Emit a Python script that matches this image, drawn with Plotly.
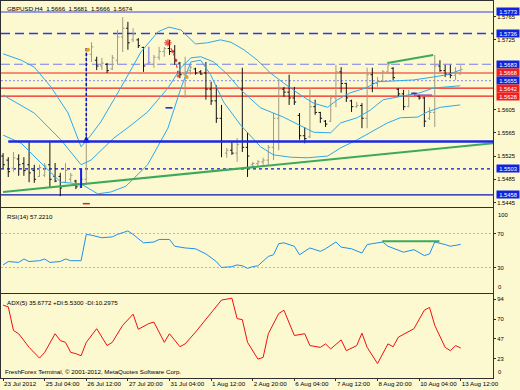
import plotly.graph_objects as go

# ---------------- data ----------------
bars = list(range(89))
highs = [1.5530,1.5523,1.5532,1.5528,1.5523,1.5549,1.5510,1.5510,1.5513,1.5549,
         1.5513,1.5496,1.5513,1.5496,1.5484,1.5504,1.5711,1.5721,1.5696,1.5694,
         1.5685,1.5699,1.5742,1.5764,1.5756,1.5745,1.5728,1.5713,1.5713,1.5699,
         1.5713,1.5713,1.5725,1.5716,1.5687,1.5696,1.5682,1.5677,1.5673,1.5687,
         1.5653,1.5647,1.5613,1.5539,1.5549,1.5556,1.5677,1.5565,1.5515,1.5518,
         1.5522,1.5544,1.5599,1.5656,1.5644,1.5665,1.5644,1.5599,1.5575,1.5642,
         1.5622,1.5601,1.5587,1.5630,1.5682,1.5678,1.5651,1.5622,1.5618,1.5616,
         1.5677,1.5677,1.5661,1.5673,1.5687,1.5678,1.5642,1.5639,1.5639,1.5635,
         1.5630,1.5627,1.5609,1.5699,1.5690,1.5682,1.5682,1.5678,1.5681]
lows = [1.5504,1.5489,1.5498,1.5491,1.5491,1.5480,1.5479,1.5489,1.5489,1.5470,
        1.5480,1.5456,1.5479,1.5480,1.5468,1.5470,1.5475,1.5687,1.5673,1.5673,
        1.5668,1.5673,1.5682,1.5704,1.5708,1.5721,1.5711,1.5670,1.5682,1.5677,
        1.5690,1.5696,1.5699,1.5682,1.5659,1.5625,1.5665,1.5665,1.5665,1.5622,
        1.5613,1.5582,1.5523,1.5522,1.5527,1.5515,1.5532,1.5489,1.5506,1.5506,
        1.5510,1.5510,1.5518,1.5535,1.5627,1.5613,1.5613,1.5553,1.5547,1.5556,
        1.5596,1.5582,1.5575,1.5584,1.5609,1.5634,1.5618,1.5601,1.5608,1.5573,
        1.5573,1.5635,1.5644,1.5653,1.5668,1.5656,1.5627,1.5604,1.5609,1.5630,
        1.5622,1.5575,1.5587,1.5575,1.5670,1.5661,1.5659,1.5656,1.5666]
opens = [1.5525,1.5518,1.5504,1.5520,1.5512,1.5510,1.5500,1.5490,1.5492,1.5510,
         1.5490,1.5490,1.5480,1.5485,1.5482,1.5472,1.5485,1.5700,1.5690,1.5680,
         1.5683,1.5675,1.5690,1.5730,1.5745,1.5725,1.5725,1.5712,1.5684,1.5683,
         1.5695,1.5705,1.5710,1.5705,1.5685,1.5665,1.5672,1.5675,1.5670,1.5668,
         1.5640,1.5620,1.5590,1.5530,1.5535,1.5530,1.5640,1.5540,1.5510,1.5512,
         1.5515,1.5518,1.5540,1.5590,1.5640,1.5635,1.5625,1.5595,1.5560,1.5558,
         1.5610,1.5600,1.5585,1.5585,1.5625,1.5670,1.5650,1.5620,1.5610,1.5612,
         1.5590,1.5665,1.5650,1.5655,1.5670,1.5676,1.5640,1.5632,1.5610,1.5632,
         1.5628,1.5625,1.5590,1.5600,1.5680,1.5672,1.5666,1.5664,1.5666]
closes = [1.5510,1.5498,1.5522,1.5510,1.5500,1.5496,1.5485,1.5505,1.5508,1.5485,
          1.5482,1.5470,1.5500,1.5492,1.5472,1.5485,1.5700,1.5713,1.5680,1.5685,
          1.5672,1.5694,1.5730,1.5745,1.5720,1.5735,1.5715,1.5680,1.5686,1.5695,
          1.5705,1.5710,1.5705,1.5690,1.5665,1.5670,1.5678,1.5668,1.5666,1.5640,
          1.5620,1.5590,1.5550,1.5535,1.5530,1.5545,1.5540,1.5525,1.5512,1.5515,
          1.5518,1.5540,1.5590,1.5640,1.5635,1.5625,1.5618,1.5560,1.5555,1.5610,
          1.5600,1.5590,1.5580,1.5625,1.5670,1.5650,1.5625,1.5610,1.5612,1.5590,
          1.5665,1.5650,1.5655,1.5670,1.5682,1.5660,1.5632,1.5610,1.5630,1.5632,
          1.5625,1.5585,1.5600,1.5680,1.5672,1.5666,1.5664,1.5670,1.5674]

# Bollinger-style bands (read at curve vertices: bar index, price)
upper_idx = [0,3.5,6,9.2,12.5,15,16.9,18.8,22.6,26.5,29.8,31.9,34.2,37,39.3,41.8,43.8,46.3,
             48.9,51.4,53.9,57.2,59.7,62.4,64.3,66.8,69.7,72,74.5,78.9,82.7,85.4,87.9]
upper_val = [1.5701,1.5690,1.5678,1.5644,1.5599,1.5541,1.5561,1.5584,1.5642,1.5704,1.5739,
             1.5747,1.5742,1.5718,1.5720,1.5725,1.5721,1.5708,1.5690,1.5668,1.5651,1.5630,
             1.5616,1.5609,1.5622,1.5634,1.5642,1.5653,1.5654,1.5656,1.5661,1.5665,1.5673]
mid_idx = [0,6,11.1,15,16.9,18.8,21.3,24.6,27.8,31.7,34.2,36.1,38,40.5,43.2,45.7,49.5,53.9,
           57.2,59.7,63,64.9,68.1,70.6,73.1,75.8,80.2,82.7,85.4,87.9]
mid_val = [1.5630,1.5599,1.5553,1.5510,1.5518,1.5535,1.5556,1.5578,1.5601,1.5642,1.5677,
           1.5694,1.5696,1.5687,1.5665,1.5639,1.5608,1.5592,1.5578,1.5566,1.5565,1.5582,
           1.5591,1.5604,1.5622,1.5627,1.5634,1.5642,1.5644,1.5646]
lower_idx = [0,3.5,7.3,11.1,15,18.2,20.7,23.6,27.8,31.7,34.2,36.1,38,39.9,42.4,45.7,49.5,
             52,55.3,58.5,62.4,64.9,68.1,70.6,73.9,76.4,79.7,81.6,84.1,87.9]
lower_val = [1.5561,1.5547,1.5513,1.5480,1.5477,1.5460,1.5463,1.5473,1.5510,1.5573,1.5642,
             1.5687,1.5690,1.5665,1.5618,1.5578,1.5541,1.5527,1.5523,1.5522,1.5525,1.5539,
             1.5553,1.5565,1.5582,1.5591,1.5592,1.5601,1.5609,1.5613]

# RSI(14)
rsi_idx = [0,1,3,4,5,7,8,9,11,12,13,15,16,17,19,21,22,24,25,27,29,30,32,33,35,37,39,41,42,
           44,45,46,47,48,49,51,52,53,54,56,57,59,60,61,62,64,65,67,69,70,71,73,74,77,79,81,
           82,83,85,86,88]
rsi_val = [33,37,36,40,37,38,40,36,37,40,38,38,69,68,65,66,69,73,69,59,60,63,63,55,53,52,
           46,37,30,31,33,32,29,31,32,43,45,58,59,55,45,53,51,49,52,60,54,52,47,57,58,60,55,
           48,51,44,46,60,57,55,57.2]

# ADX(5)
adx_idx = [0,1,2,3,5,7,8,10,11,12,13,14,15,16,18,20,21,23,25,26,28,29,31,32,34,35,37,40,42,
           44,45,46,47,49,50,51,53,54,56,58,59,61,62,63,65,66,68,69,70,72,74,75,76,79,81,82,
           83,85,86,87,88]
adx_val = [86.7,84.7,56.6,52.7,36.5,23.7,30.5,52.7,44.6,42.5,30.5,29,26.5,42.5,58.7,38.6,
           42.5,62.7,76,58,64.7,66.6,42.5,52.7,37.3,40.6,54.6,76.7,92.8,95,70.7,69.5,42.5,
           22.5,24.5,52.7,76.7,80.7,50.6,52.7,38.6,36.5,40.6,34.6,45.4,32.5,38.6,53.4,36.5,
           17.2,40.6,37.3,48.6,58.7,80.7,84,62.7,36.5,32.5,38.6,35.7]

# horizontal levels
levels = [1.5773, 1.5736, 1.5683, 1.5668, 1.5655, 1.5642, 1.5628, 1.5503, 1.5458]
level_colors = ["#3340F0", "#2838F0", "#7C7CF0", "#F01E1E", "#9A9AEC", "#F01E1E",
                "#F01E1E", "#0A14C8", "#0A14B4"]
level_dash = ["solid", "9px,5px", "9px,4px", "solid", "2px,2px", "solid", "solid",
              "3px,3px", "solid"]
level_width = [1.2, 1.6, 1.2, 1.2, 1.2, 1.2, 1.2, 1.2, 1.2]
label_bg = ["#1024E0", "#1024E0", "#1024E0", "#F02020", "#1024E0", "#F02020",
            "#F02020", "#1024E0", "#1024E0"]
support_level = 1.5550
support_start = 1

trend_x = [0, 94.2]
trend_y = [1.5463, 1.5547]
trend2_x = [73.9, 82.7]
trend2_y = [1.5685, 1.5699]
rsi_trend_x = [72.9, 83.9]
rsi_trend_y = [61, 61]

price_ticks = [1.5765, 1.5725, 1.5605, 1.5565, 1.5525, 1.5485, 1.5445]
date_ticks = [0, 8, 16, 24, 32, 40, 48, 56, 64, 72, 80, 88]
date_labels = ["23 Jul 2012", "25 Jul 04:00", "26 Jul 12:00", "27 Jul 20:00",
               "31 Jul 04:00", "1 Aug 12:00", "2 Aug 20:00", "6 Aug 04:00",
               "7 Aug 12:00", "8 Aug 20:00", "10 Aug 04:00", "13 Aug 12:00"]

BG = "#FCF8D0"
BAND = "#2EAAEA"
FONT = "Liberation Sans"
XR = [-0.4, 94.2]

fig = go.Figure()

for xi, yi in [(upper_idx, upper_val), (mid_idx, mid_val), (lower_idx, lower_val)]:
    fig.add_trace(go.Scatter(x=xi, y=yi, mode="lines", line=dict(color=BAND, width=1),
                             xaxis="x", yaxis="y", hoverinfo="skip"))

for p, c, d, w in zip(levels, level_colors, level_dash, level_width):
    fig.add_shape(type="line", xref="x domain", yref="y", x0=0, x1=1, y0=p, y1=p,
                  line=dict(color=c, width=w, dash=d), layer="below")
fig.add_shape(type="line", xref="x", yref="y", x0=support_start, x1=XR[1],
              y0=support_level, y1=support_level, line=dict(color="#1A28E0", width=2.5))

fig.add_trace(go.Scatter(x=trend_x, y=trend_y, mode="lines", line=dict(color="#3CAA5A", width=2),
                         xaxis="x", yaxis="y", hoverinfo="skip"))
fig.add_trace(go.Scatter(x=trend2_x, y=trend2_y, mode="lines", line=dict(color="#3CAA5A", width=2),
                         xaxis="x", yaxis="y", hoverinfo="skip"))

fig.add_trace(go.Scatter(x=[16, 16], y=[1.5711, 1.5560], mode="lines",
                         line=dict(color="#0A14D0", width=1.5, dash="3px,2px"),
                         xaxis="x", yaxis="y", hoverinfo="skip"))
fig.add_trace(go.Scatter(x=[16], y=[1.5560], mode="markers",
                         marker=dict(symbol="arrow-up", size=7, color="#0A14D0"),
                         xaxis="x", yaxis="y", hoverinfo="skip"))
fig.add_trace(go.Scatter(x=[28, 28], y=[1.5713, 1.5682], mode="lines",
                         line=dict(color="#9A9AF0", width=1.5), xaxis="x", yaxis="y",
                         hoverinfo="skip"))

fig.add_trace(go.Ohlc(x=bars, open=opens, high=highs, low=lows, close=closes,
                      increasing=dict(line=dict(color="#A29A84", width=1)),
                      decreasing=dict(line=dict(color="#111111", width=1)),
                      tickwidth=0.35, xaxis="x", yaxis="y", hoverinfo="skip"))

fig.add_trace(go.Scatter(x=[15, 15], y=[lows[15], highs[15]], mode="lines",
                         line=dict(color="#1020F0", width=2), xaxis="x", yaxis="y",
                         hoverinfo="skip"))
fig.add_trace(go.Scatter(x=[31.7, 32.6, 33.2, 33.7], y=[1.5720, 1.5705, 1.5690, 1.5663],
                         mode="lines+markers", line=dict(color="#E02020", width=1, dash="dot"),
                         marker=dict(size=[6, 2, 2, 2], symbol=["asterisk-open", "circle", "circle", "circle"],
                                     color="#E02020", line=dict(color="#E02020", width=1.5)),
                         xaxis="x", yaxis="y", hoverinfo="skip"))
fig.add_trace(go.Scatter(x=[16.3, 35.3], y=[1.5708, 1.5661], mode="markers",
                         marker=dict(size=4, color="#E8A020"), xaxis="x", yaxis="y",
                         hoverinfo="skip"))
fig.add_trace(go.Scatter(x=[31.9], y=[1.5608], mode="markers",
                         marker=dict(symbol="line-ew", size=5, line=dict(color="#1020E0", width=1.5)),
                         xaxis="x", yaxis="y", hoverinfo="skip"))
fig.add_trace(go.Scatter(x=[16], y=[1.5443], mode="markers",
                         marker=dict(symbol="line-ew", size=5, line=dict(color="#E02020", width=1.5)),
                         xaxis="x", yaxis="y", hoverinfo="skip"))
fig.add_trace(go.Scatter(x=[79, 82.5], y=[1.5630, 1.5630], mode="lines",
                         line=dict(color="#8040C0", width=1.2), xaxis="x", yaxis="y",
                         hoverinfo="skip"))
fig.add_trace(go.Scatter(x=[79], y=[1.5633], mode="markers",
                         marker=dict(symbol="line-ew", size=4, line=dict(color="#3030D0", width=1.5)),
                         xaxis="x", yaxis="y", hoverinfo="skip"))

for lv in [70, 30]:
    fig.add_shape(type="line", xref="x2 domain", yref="y2", x0=0, x1=1, y0=lv, y1=lv,
                  line=dict(color="#B8B8B0", width=1, dash="2px,2px"), layer="below")
fig.add_trace(go.Scatter(x=rsi_idx, y=rsi_val, mode="lines", line=dict(color="#1E90F0", width=1),
                         xaxis="x2", yaxis="y2", hoverinfo="skip"))
fig.add_trace(go.Scatter(x=rsi_trend_x, y=rsi_trend_y, mode="lines",
                         line=dict(color="#3CAA5A", width=2), xaxis="x2", yaxis="y2",
                         hoverinfo="skip"))

fig.add_trace(go.Scatter(x=adx_idx, y=adx_val, mode="lines", line=dict(color="#F01010", width=1),
                         xaxis="x3", yaxis="y3", hoverinfo="skip"))

axis_common = dict(showline=True, mirror=True, linecolor="#303030", linewidth=1,
                   showgrid=False, zeroline=False)

fig.update_layout(
    width=520, height=390,
    margin=dict(l=1, r=27, t=1, b=12),
    paper_bgcolor=BG, plot_bgcolor=BG,
    showlegend=False,
    font=dict(family=FONT, size=6, color="#000000"),
    xaxis=dict(domain=[0, 1], anchor="y", range=XR, showticklabels=False, ticks="",
               rangeslider=dict(visible=False), **axis_common),
    xaxis2=dict(domain=[0, 1], anchor="y2", range=XR, showticklabels=False, ticks="",
                matches="x", **axis_common),
    xaxis3=dict(domain=[0, 1], anchor="y3", range=XR, matches="x",
                tickmode="array", tickvals=date_ticks, ticktext=date_labels,
                ticks="outside", ticklen=2, tickcolor="#303030", tickangle=0,
                ticklabelposition="outside right",
                tickfont=dict(family=FONT, size=6.2), **axis_common),
    yaxis=dict(domain=[0.4536, 1.0], anchor="x", side="right", range=[1.54373, 1.57919],
               tickmode="array", tickvals=price_ticks, tickformat=".4f",
               ticks="outside", ticklen=2, tickcolor="#303030",
               tickfont=dict(size=5.8), **axis_common),
    yaxis2=dict(domain=[0.2255, 0.4509], anchor="x2", side="right", range=[0, 100],
                tickmode="array", tickvals=[70, 30], ticktext=["70", "30"],
                ticks="outside", ticklen=2, tickcolor="#303030",
                tickfont=dict(size=5.8), **axis_common),
    yaxis3=dict(domain=[0.0, 0.2228], anchor="x3", side="right", range=[0, 100],
                tickmode="array", tickvals=[94, 70, 47, 23], ticktext=["94", "70", "47", "23"],
                ticks="outside", ticklen=2, tickcolor="#303030",
                tickfont=dict(size=5.8), **axis_common),
)

annotations = []
for p, bg in zip(levels, label_bg):
    annotations.append(dict(x=1, xref="paper", xanchor="left", xshift=3, y=p, yref="y",
                            text=f"{p:.4f}", showarrow=False, bgcolor=bg, width=22, height=7,
                            borderpad=0, font=dict(color="#FFFFFF", size=5.8, family=FONT)))
annotations += [
    dict(x=0.008, y=1.0, xref="paper", yref="paper", xanchor="left", yanchor="top", yshift=-2,
         text="GBPUSD,H4  1.5666  1.5681  1.5666  1.5674", showarrow=False,
         font=dict(size=6.2, family=FONT)),
    dict(x=0.008, y=0.4509, xref="paper", yref="paper", xanchor="left", yanchor="top", yshift=-3,
         text="RSI(14) 57.2210", showarrow=False, font=dict(size=6.2, family=FONT)),
    dict(x=0.008, y=0.2228, xref="paper", yref="paper", xanchor="left", yanchor="top", yshift=-3,
         text="ADX(5) 35.6772 +DI:5.5300 -DI:10.2975", showarrow=False,
         font=dict(size=6.2, family=FONT)),
    dict(x=0.004, y=0.0, xref="paper", yref="paper", xanchor="left", yanchor="bottom", yshift=1,
         text="FreshForex Terminal, © 2001-2012, MetaQuotes Software Corp.", showarrow=False,
         font=dict(size=6.2, family=FONT)),
    dict(x=1, xref="paper", xanchor="left", xshift=3, y=0.4509, yref="paper", yanchor="top",
         yshift=-2, text="100", showarrow=False, font=dict(size=5.8, family=FONT)),
    dict(x=1, xref="paper", xanchor="left", xshift=3, y=0.2255, yref="paper", yanchor="bottom",
         yshift=1, text="0", showarrow=False, font=dict(size=5.8, family=FONT)),
    dict(x=1, xref="paper", xanchor="left", xshift=3, y=0.0, yref="paper", yanchor="bottom",
         yshift=1, text="0", showarrow=False, font=dict(size=5.8, family=FONT)),
]
fig.update_layout(annotations=annotations)

fig.write_html("out.html", config={"displayModeBar": False},
               post_script="document.body.style.margin='0';document.body.style.overflow='hidden';"
                           "document.body.style.background='#FCF8D0';")
